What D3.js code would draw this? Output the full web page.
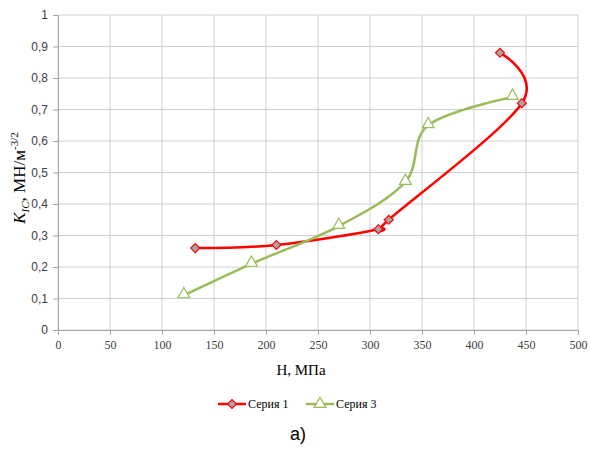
<!DOCTYPE html>
<html>
<head>
<meta charset="utf-8">
<script src="https://cdn.jsdelivr.net/npm/d3@7"></script>
<style>
  body { margin: 0; background: #fff; }
</style>
</head>
<body>
<div id="chart"></div>
<script>
// values
const series1H = [132, 210, 308, 318, 446, 425]
const series1K = [0.26, 0.27, 0.32, 0.35, 0.72, 0.88]
const series3H = [121, 186, 270, 334, 356, 437]
const series3K = [0.11, 0.21, 0.33, 0.47, 0.65, 0.74]
const xTicks = [0, 50, 100, 150, 200, 250, 300, 350, 400, 450, 500]
const yTicks = [0, 0.1, 0.2, 0.3, 0.4, 0.5, 0.6, 0.7, 0.8, 0.9, 1]
const legendNames = ["Серия 1", "Серия 3"]

let width = 590
let height = 451

const margin = { top: 15, left: 58, right: 12, bottom: 121 }

const svg = d3.select("#chart")
  .append("svg")
    .attr("width", width)
    .attr("height", height)

const x = d3.scaleLinear().domain([0, 500]).range([margin.left, width - margin.right])
const y = d3.scaleLinear().domain([0, 1]).range([height - margin.bottom, margin.top])

const fmt = d => String(d).replace(".", ",")

// grid
svg.append("g")
  .selectAll("line.v")
  .data(xTicks)
  .join("line")
    .attr("x1", d => x(d)).attr("x2", d => x(d))
    .attr("y1", y(0)).attr("y2", y(1))
    .attr("stroke", "#d0d0d0").attr("stroke-width", 1)
svg.append("g")
  .selectAll("line.h")
  .data(yTicks)
  .join("line")
    .attr("x1", x(0)).attr("x2", x(500))
    .attr("y1", d => y(d)).attr("y2", d => y(d))
    .attr("stroke", "#d0d0d0").attr("stroke-width", 1)

// axes
const xAxis = svg.append("g")
  .attr("transform", "translate(0," + y(0) + ")")
  .call(d3.axisBottom(x).tickValues(xTicks).tickSize(5).tickFormat(d => d))
xAxis.select(".domain").attr("stroke", "#a6a6a6")
xAxis.selectAll(".tick line").attr("stroke", "#a6a6a6")
xAxis.selectAll(".tick text")
  .attr("font-family", "Liberation Serif").attr("font-size", 12).attr("fill", "#404040").attr("dy", "0.9em")

const yAxis = svg.append("g")
  .attr("transform", "translate(" + x(0) + ",0)")
  .call(d3.axisLeft(y).tickValues(yTicks).tickSize(5).tickFormat(fmt))
yAxis.select(".domain").attr("stroke", "#a6a6a6")
yAxis.selectAll(".tick line").attr("stroke", "#a6a6a6")
yAxis.selectAll(".tick text")
  .attr("font-family", "Liberation Sans").attr("font-size", 12).attr("fill", "#404040").attr("x", -10)

// titles
svg.append("text")
  .attr("x", 301).attr("y", 375)
  .attr("text-anchor", "middle")
  .attr("font-family", "Liberation Serif").attr("font-size", 15)
  .text("H, МПа")

const yt = svg.append("text")
  .attr("transform", "translate(25,178) rotate(-90)")
  .attr("text-anchor", "middle")
  .attr("font-family", "Liberation Serif").attr("font-size", 17)
yt.append("tspan").attr("font-style", "italic").text("K")
yt.append("tspan").attr("font-style", "italic").attr("font-size", 11).attr("dy", 4).text("IC")
yt.append("tspan").attr("dy", -4).text(", МН/м")
yt.append("tspan").attr("font-size", 11).attr("dy", -7).text("-3/2")

// lines
const line = d3.line()
  .x(d => x(d[0])).y(d => y(d[1]))
  .curve(d3.curveCatmullRom.alpha(0))

const s1 = series1H.map((h, i) => [h, series1K[i]])
const s3 = series3H.map((h, i) => [h, series3K[i]])

svg.append("path").datum(s1)
  .attr("fill", "none").attr("stroke", "#ff0000").attr("stroke-width", 2.5)
  .attr("d", line)
svg.append("path").datum(s3)
  .attr("fill", "none").attr("stroke", "#9bbb59").attr("stroke-width", 2.5)
  .attr("d", line)

const diamond = d3.symbol().type(d3.symbolSquare).size(40)
const tri = d3.symbol().type(d3.symbolTriangle).size(60)

svg.append("g").selectAll("path")
  .data(s1).join("path")
    .attr("transform", d => "translate(" + x(d[0]) + "," + y(d[1]) + ") rotate(45)")
    .attr("d", diamond)
    .attr("fill", "#a6a6a6").attr("stroke", "#ff0000").attr("stroke-width", 1.2)
svg.append("g").selectAll("path")
  .data(s3).join("path")
    .attr("transform", d => "translate(" + x(d[0]) + "," + (y(d[1]) - 1) + ")")
    .attr("d", tri)
    .attr("fill", "#ffffff").attr("stroke", "#9bbb59").attr("stroke-width", 1.2)

// legend
const leg = svg.append("g").attr("transform", "translate(0,404)")
const legItems = [
  { name: legendNames[0], x0: 218, color: "#ff0000", sym: diamond, rot: 45, fill: "#a6a6a6" },
  { name: legendNames[1], x0: 306, color: "#9bbb59", sym: tri, rot: 0, fill: "#ffffff" }
]
legItems.forEach(it => {
  leg.append("line").attr("x1", it.x0).attr("x2", it.x0 + 28).attr("y1", 0).attr("y2", 0)
    .attr("stroke", it.color).attr("stroke-width", 2.5)
  leg.append("path").attr("d", it.sym)
    .attr("transform", "translate(" + (it.x0 + 14) + ",0) rotate(" + it.rot + ")")
    .attr("fill", it.fill).attr("stroke", it.color).attr("stroke-width", 1.2)
  leg.append("text").attr("x", it.x0 + 30).attr("y", 4)
    .attr("font-family", "Liberation Serif").attr("font-size", 12)
    .text(it.name)
})

svg.append("text")
  .attr("x", 298).attr("y", 440)
  .attr("text-anchor", "middle")
  .attr("font-family", "Liberation Sans").attr("font-size", 18)
  .text("а)")
</script>
</body>
</html>
